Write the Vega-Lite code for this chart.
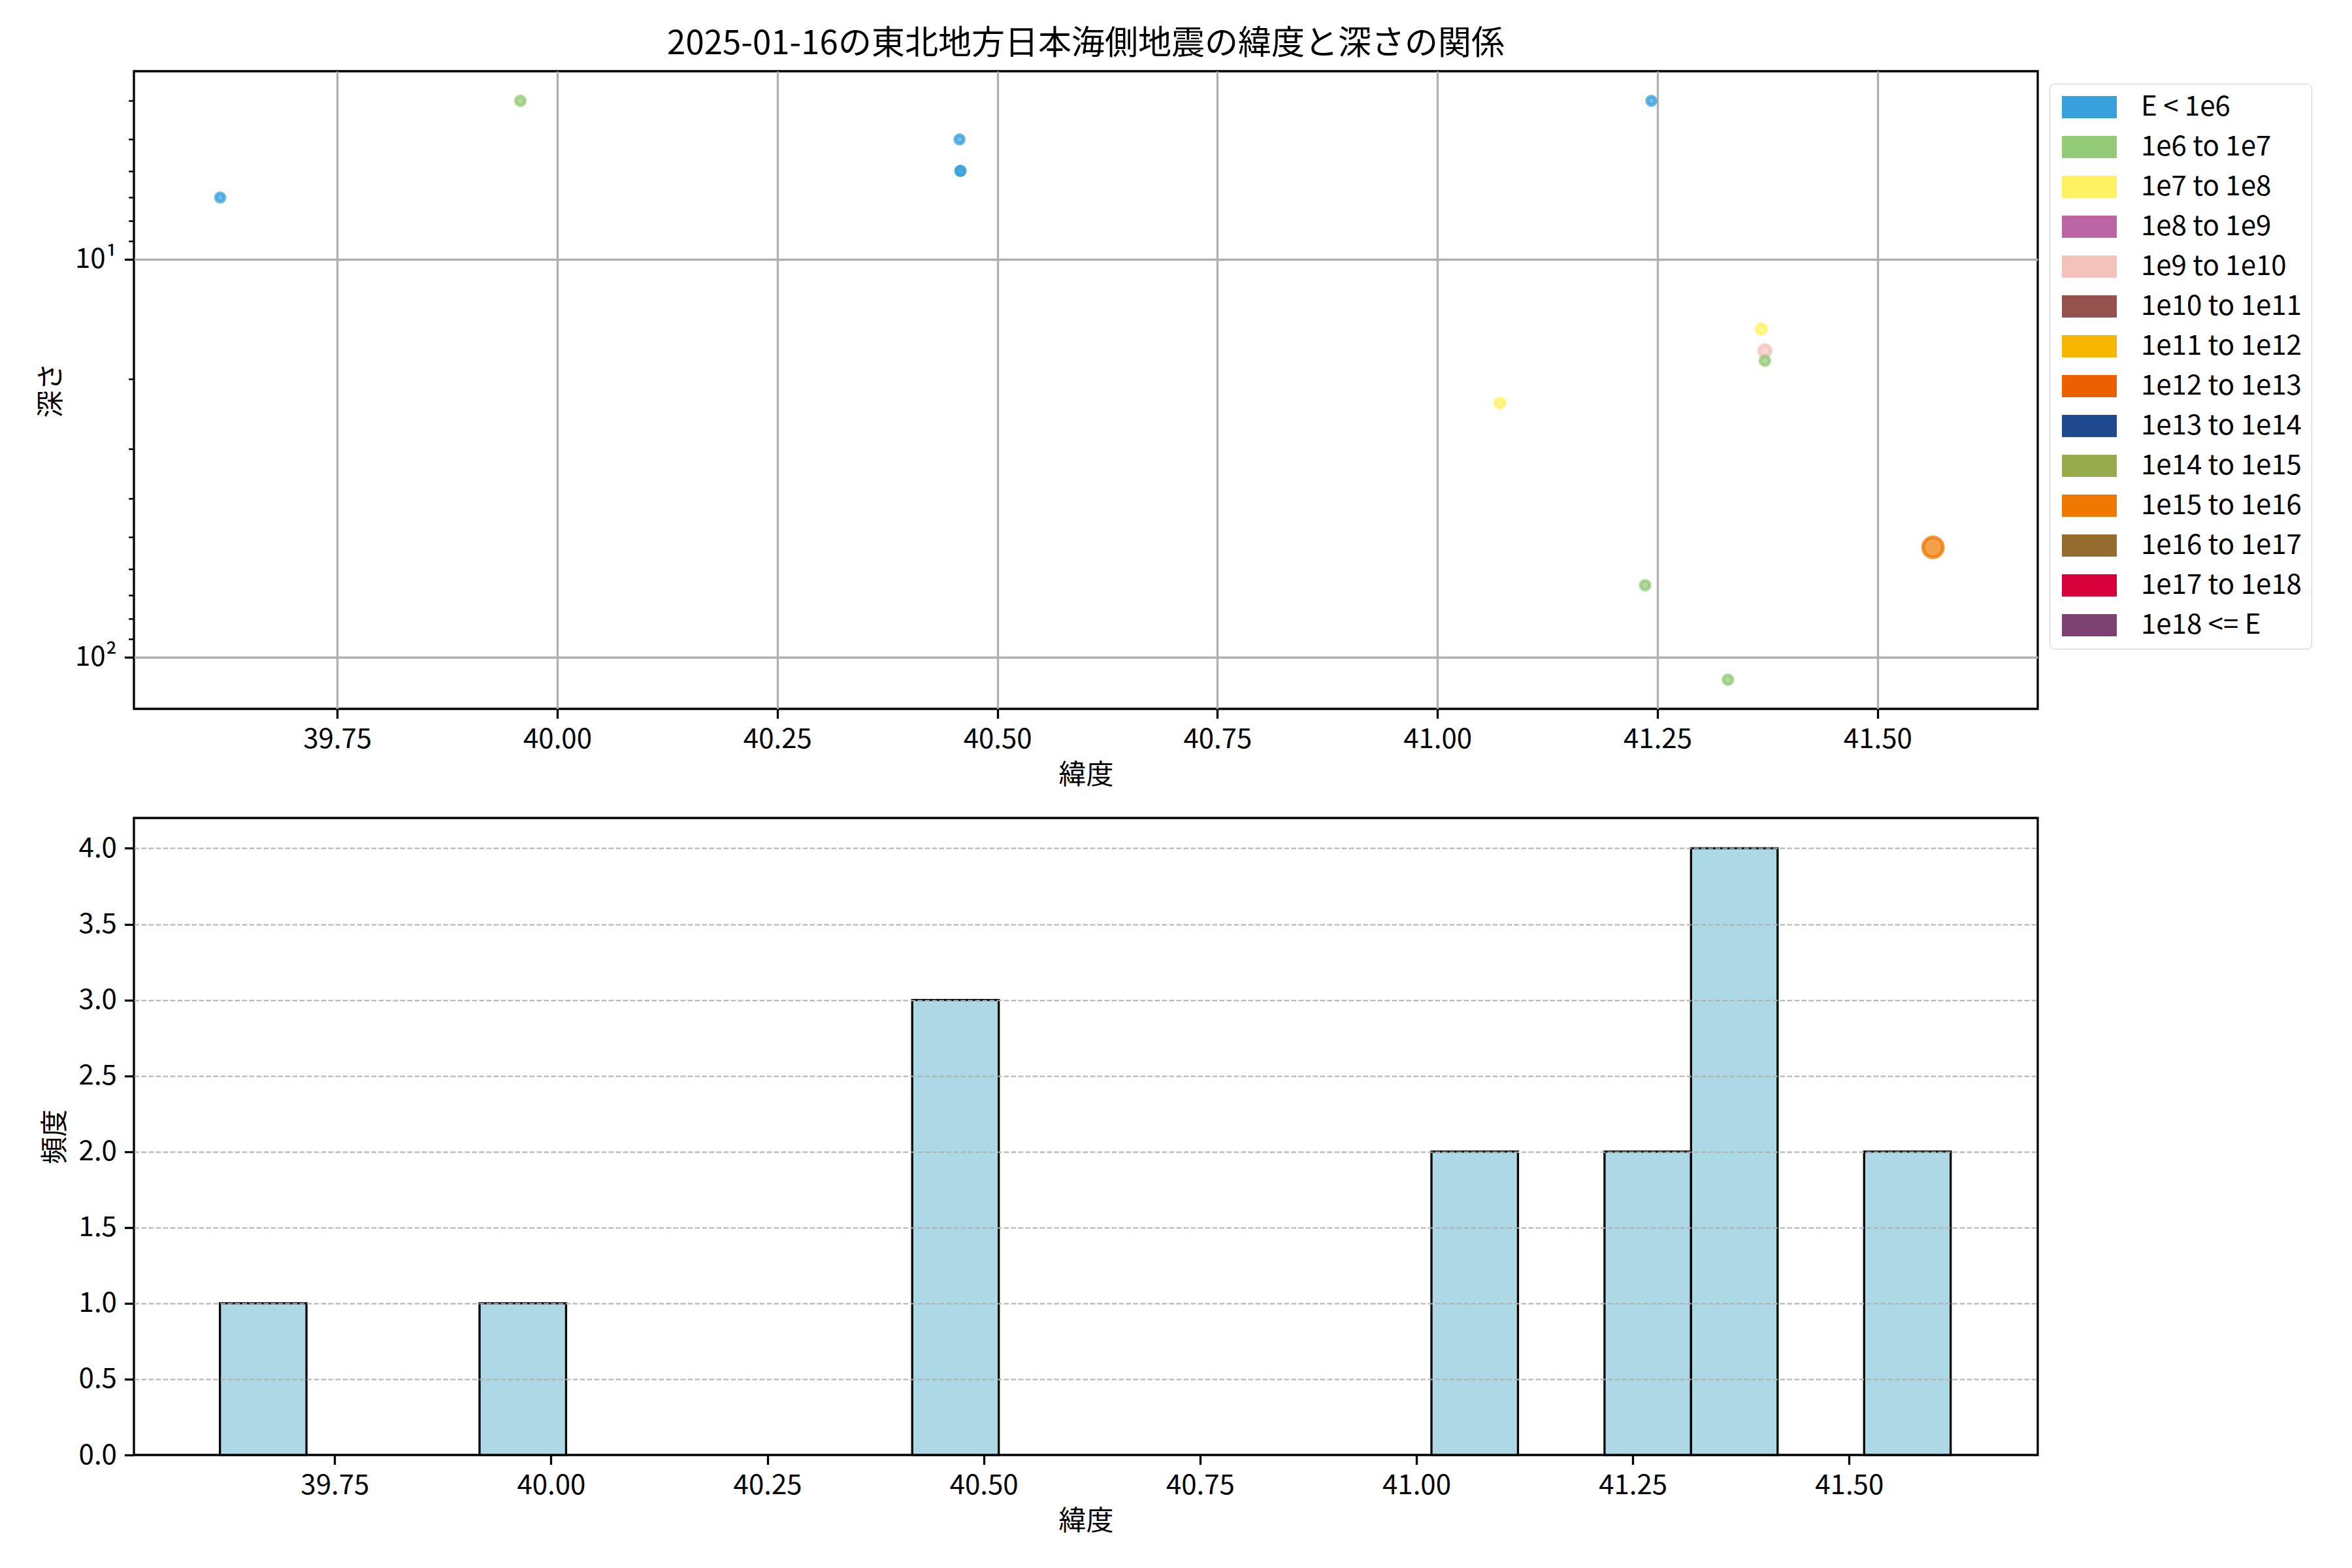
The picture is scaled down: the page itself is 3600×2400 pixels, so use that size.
{
  "$schema": "https://vega.github.io/schema/vega-lite/v6.json",
  "background": "white",
  "padding": {"left": 55, "top": 40, "right": 20, "bottom": 20},
  "config": {
    "font": "Noto Sans CJK JP",
    "view": {"stroke": "black", "strokeWidth": 3.3},
    "axis": {
      "labelFont": "Noto Sans CJK JP",
      "titleFont": "Noto Sans CJK JP",
      "labelFontSize": 42,
      "titleFontSize": 42,
      "titleFontWeight": "normal",
      "labelColor": "black",
      "titleColor": "black",
      "tickColor": "black",
      "tickWidth": 3.3,
      "tickSize": 14.6,
      "labelPadding": 12,
      "titlePadding": 14,
      "domain": false,
      "gridColor": "#b0b0b0",
      "gridWidth": 3.3,
      "labelFlush": false,
      "labelOverlap": false
    },
    "legend": {
      "labelFont": "Noto Sans CJK JP",
      "labelFontSize": 42,
      "labelColor": "black"
    }
  },
  "datasets": {
    "quakes": [
      {"lat": 39.617, "depth": 7, "mag": 0.5, "cls": "E < 1e6"},
      {"lat": 39.958, "depth": 4, "mag": 1.0, "cls": "1e6 to 1e7"},
      {"lat": 40.457, "depth": 5, "mag": 0.6, "cls": "E < 1e6"},
      {"lat": 40.458, "depth": 6, "mag": 0.7, "cls": "E < 1e6"},
      {"lat": 40.458, "depth": 6, "mag": 0.6, "cls": "E < 1e6"},
      {"lat": 41.071, "depth": 23, "mag": 1.7, "cls": "1e7 to 1e8"},
      {"lat": 41.09, "depth": null, "mag": 1.0, "cls": "1e6 to 1e7"},
      {"lat": 41.236, "depth": 66, "mag": 1.1, "cls": "1e6 to 1e7"},
      {"lat": 41.243, "depth": 4, "mag": 0.5, "cls": "E < 1e6"},
      {"lat": 41.33, "depth": 114, "mag": 1.2, "cls": "1e6 to 1e7"},
      {"lat": 41.368, "depth": 15, "mag": 1.8, "cls": "1e7 to 1e8"},
      {"lat": 41.372, "depth": 17, "mag": 3.0, "cls": "1e9 to 1e10"},
      {"lat": 41.372, "depth": 18, "mag": 1.1, "cls": "1e6 to 1e7"},
      {"lat": 41.563, "depth": 53, "mag": 6.9, "cls": "1e15 to 1e16"},
      {"lat": 41.584, "depth": null, "mag": 1.0, "cls": "1e6 to 1e7"}
    ]
  },
  "spacing": 40,
  "vconcat": [
    {
      "width": 2914,
      "height": 976,
      "title": {
        "text": "2025-01-16の東北地方日本海側地震の緯度と深さの関係",
        "fontSize": 51,
        "fontWeight": "normal",
        "color": "black",
        "frame": "group",
        "anchor": "middle",
        "offset": 15
      },
      "data": {"name": "quakes"},
      "mark": {"type": "point", "shape": "circle", "filled": true, "fillOpacity": 0.7, "strokeOpacity": 0.75, "strokeWidth": 5.5},
      "encoding": {
        "x": {
          "field": "lat", "type": "quantitative",
          "scale": {"domain": [39.519, 41.682], "nice": false, "zero": false},
          "axis": {"values": [39.75, 40, 40.25, 40.5, 40.75, 41, 41.25, 41.5], "format": ".2f", "title": "緯度"}
        },
        "y": {
          "field": "depth", "type": "quantitative",
          "scale": {"type": "log", "domain": [3.37, 135], "reverse": true, "nice": false},
          "axis": {
            "title": "深さ",
            "values": [4, 5, 6, 7, 8, 9, 10, 20, 30, 40, 50, 60, 70, 80, 90, 100],
            "labelExpr": "datum.value == 10 ? '10¹' : datum.value == 100 ? '10²' : ''",
            "gridOpacity": {"condition": {"test": "datum.value == 10 || datum.value == 100", "value": 1}, "value": 0},
            "tickSize": {"condition": {"test": "datum.value == 10 || datum.value == 100", "value": 14.6}, "value": 8.3},
            "tickWidth": {"condition": {"test": "datum.value == 10 || datum.value == 100", "value": 3.3}, "value": 2.5}
          }
        },
        "fill": {
          "field": "cls", "type": "nominal",
          "scale": {
            "domain": ["E < 1e6", "1e6 to 1e7", "1e7 to 1e8", "1e8 to 1e9", "1e9 to 1e10", "1e10 to 1e11", "1e11 to 1e12", "1e12 to 1e13", "1e13 to 1e14", "1e14 to 1e15", "1e15 to 1e16", "1e16 to 1e17", "1e17 to 1e18", "1e18 <= E"],
            "range": ["#38a1db", "#93ca76", "#fff262", "#bc64a4", "#f5c1bb", "#95514c", "#f8b500", "#eb6101", "#1e488f", "#9aab4e", "#ee7800", "#946c2d", "#d7003a", "#7a4171"]
          },
          "legend": {
            "title": null,
            "orient": "none",
            "legendX": 2932,
            "legendY": 19,
            "symbolType": "M-1,-1H3.94V1H-1Z",
            "symbolSize": 1156,
            "symbolStrokeWidth": 0,
            "symbolOpacity": 1,
            "labelOffset": 83,
            "rowPadding": 19,
            "padding": 15,
            "strokeColor": "#cccccc",
            "fillColor": "white",
            "cornerRadius": 8,
            "labelLimit": 600
          }
        },
        "stroke": {
          "field": "cls", "type": "nominal",
          "scale": {
            "domain": ["E < 1e6", "1e6 to 1e7", "1e7 to 1e8", "1e8 to 1e9", "1e9 to 1e10", "1e10 to 1e11", "1e11 to 1e12", "1e12 to 1e13", "1e13 to 1e14", "1e14 to 1e15", "1e15 to 1e16", "1e16 to 1e17", "1e17 to 1e18", "1e18 <= E"],
            "range": ["#38a1db", "#93ca76", "#fff262", "#bc64a4", "#f5c1bb", "#95514c", "#f8b500", "#eb6101", "#1e488f", "#9aab4e", "#ee7800", "#946c2d", "#d7003a", "#7a4171"]
          },
          "legend": null
        },
        "size": {
          "field": "mag", "type": "quantitative",
          "scale": {"type": "pow", "exponent": 2, "domain": [0.5, 6.9], "range": [170, 920], "zero": false},
          "legend": null
        }
      }
    },
    {
      "width": 2914,
      "height": 975,
      "data": {"name": "quakes"},
      "mark": {"type": "bar", "fill": "#add8e6", "stroke": "black", "strokeWidth": 3.3, "binSpacing": 0},
      "encoding": {
        "x": {
          "field": "lat", "type": "quantitative",
          "bin": {"extent": [39.617, 41.717], "step": 0.1, "nice": false},
          "scale": {"domain": [39.518, 41.718], "nice": false, "zero": false},
          "axis": {"values": [39.75, 40, 40.25, 40.5, 40.75, 41, 41.25, 41.5], "format": ".2f", "title": "緯度", "gridDash": [7.7, 3.3], "gridWidth": 2.1, "zindex": 1}
        },
        "y": {
          "aggregate": "count", "type": "quantitative",
          "scale": {"domain": [0, 4.2], "nice": false},
          "axis": {
            "values": [0, 0.5, 1, 1.5, 2, 2.5, 3, 3.5, 4], "format": ".1f", "title": "頻度",
            "gridDash": [7.7, 3.3], "gridWidth": 2.1, "zindex": 1,
            "gridOpacity": {"condition": {"test": "datum.value == 0", "value": 0}, "value": 1}
          }
        }
      }
    }
  ]
}
